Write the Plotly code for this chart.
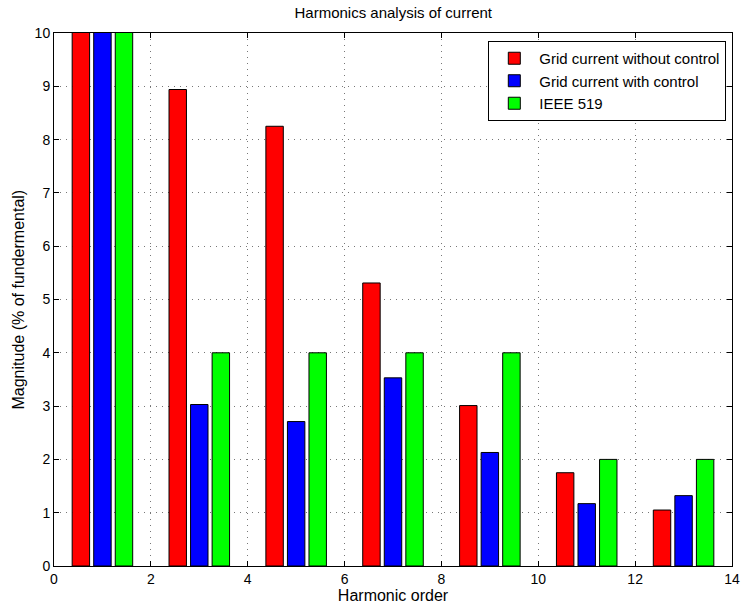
import plotly.graph_objects as go

harmonics = [1, 3, 5, 7, 9, 11, 13]
without_control = [100, 8.94, 8.25, 5.31, 3.01, 1.75, 1.05]
with_control = [100, 3.03, 2.71, 3.53, 2.13, 1.17, 1.32]
ieee519 = [100, 4, 4, 4, 4, 2, 2]

series = [
    ("Grid current without control", without_control, "#ff0000"),
    ("Grid current with control", with_control, "#0000ff"),
    ("IEEE 519", ieee519, "#00ff00"),
]
offsets = [-0.625, -0.18, 0.265]
bw = 0.36

fig = go.Figure()
for (name, vals, col), off in zip(series, offsets):
    fig.add_trace(go.Bar(
        x=harmonics, y=vals, name=name, width=bw, offset=off,
        marker=dict(color=col, line=dict(color="black", width=1)),
    ))

font = "Liberation Sans, Arial, Helvetica, sans-serif"
axis_common = dict(
    showline=True, linecolor="black", linewidth=1, mirror="ticks",
    ticks="inside", ticklen=5, tickcolor="black",
    showgrid=True, gridcolor="#777777", griddash="1px,5px", gridwidth=1,
    zeroline=False, tickfont=dict(size=14, color="black"),
    automargin=False,
)
fig.update_layout(
    barmode="overlay",
    width=742, height=609,
    margin=dict(l=54, r=10, t=33, b=43),
    paper_bgcolor="white", plot_bgcolor="white",
    font=dict(family=font, color="black", size=15),
    title=dict(text="Harmonics analysis of current", x=0.53, xanchor="center",
               y=1 - 13 / 609, yanchor="middle", font=dict(size=15),
               automargin=False),
    xaxis=dict(range=[0, 14], dtick=2, tick0=0,
               title=dict(text="Harmonic order", standoff=2, font=dict(size=16)),
               **axis_common),
    yaxis=dict(range=[0, 10], dtick=1, tick0=0, **axis_common),
    legend=dict(x=0.9916, y=0.985, xanchor="right", yanchor="top",
                bgcolor="white", bordercolor="black", borderwidth=1,
                font=dict(size=15), tracegroupgap=0, itemwidth=40),
    showlegend=True,
    annotations=[dict(
        text="Magnitude (% of fundermental)", textangle=-90,
        xref="paper", yref="paper", x=-36 / 678, y=0.5,
        xanchor="center", yanchor="middle", showarrow=False,
        font=dict(size=16),
    )],
)
fig.write_html("out.html", config={"displayModeBar": False},
               post_script="document.body.style.margin='0';")
